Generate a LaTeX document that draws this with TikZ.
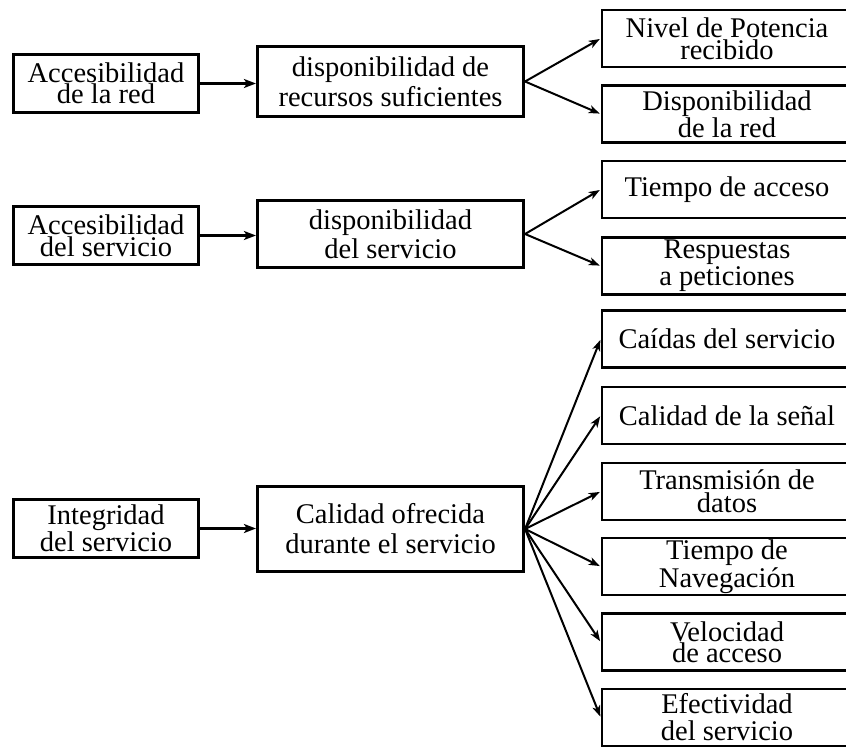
\documentclass[tikz,border=0pt]{standalone}
\usepackage{fontspec}
\setmainfont{Liberation Serif}
\usetikzlibrary{arrows.meta,positioning}

\begin{document}
\begin{tikzpicture}[x=1pt,y=-1pt,
  caja/.style={draw,line width=2.6pt,align=center,inner sep=0pt,font=\fontsize{28.5}{27}\selectfont},
  izq/.style={caja,minimum width=185pt,minimum height=58.5pt},
  med/.style={caja,minimum width=266.5pt},
  der/.style={caja,minimum width=250pt,minimum height=57pt},
  lin/.style={font=\fontsize{28.5}{#1}\selectfont},
  flecha/.style={-{Stealth[length=12pt,width=9pt,inset=3pt]},line width=2.6pt},
  rama/.style={-{Stealth[length=11pt,width=8pt,inset=3pt]},line width=2pt,shorten >=1pt}]
\useasboundingbox (0,0) rectangle (846,747);
\clip (0,0) rectangle (846,747);
% Accesibilidad de la red
\draw (106,83.5) node[izq,lin=21](acc_red){Accesibilidad\\de la red};
\draw (390.5,81.5) node[med,lin=30,minimum height=70.5pt](disp_rec){disponibilidad de\\recursos suficientes};
\draw (727,38.5) node[der,lin=22](nivel){Nivel de Potencia\\recibido};
\draw (727,114) node[der](disp_red){Disponibilidad\\de la red};
\draw[flecha] (acc_red.east) -- (acc_red.east -| disp_rec.west);
\draw[rama] (disp_rec.east) -- (nivel.west);
\draw[rama] (disp_rec.east) -- (disp_red.west);
% Accesibilidad del servicio
\draw (106,235.5) node[izq,lin=22](acc_serv){Accesibilidad\\del servicio};
\draw (390.5,234) node[med,lin=29,minimum height=67.5pt](disp_serv){disponibilidad\\del servicio};
\draw (727,189.5) node[der](t_acceso){Tiempo de acceso};
\draw (727,266) node[der](respuestas){Respuestas\\a peticiones};
\draw[flecha] (acc_serv.east) -- (acc_serv.east -| disp_serv.west);
\draw[rama] (disp_serv.east) -- (t_acceso.west);
\draw[rama] (disp_serv.east) -- (respuestas.west);
% Integridad del servicio
\draw (106,528.5) node[izq,lin=25](integ){Integridad\\del servicio};
\draw (390.5,529) node[med,lin=30,minimum height=85.5pt](cal_ofr){Calidad ofrecida\\durante el servicio};
\draw (727,339) node[der](caidas){Caídas del servicio};
\draw (727,415.5) node[der](cal_senal){Calidad de la señal};
\draw (727,491.5) node[der,lin=23](transm){Transmisión de\\datos};
\draw (727,566.5) node[der,lin=28](t_nav){Tiempo de\\Navegación};
\draw (727,642) node[der,lin=21](veloc){Velocidad\\de acceso};
\draw (727,717.5) node[der](efect){Efectividad\\del servicio};
\draw[flecha] (integ.east) -- (integ.east -| cal_ofr.west);
\draw[rama] (cal_ofr.east) -- (caidas.west);
\draw[rama] (cal_ofr.east) -- (cal_senal.west);
\draw[rama] (cal_ofr.east) -- (transm.west);
\draw[rama] (cal_ofr.east) -- (t_nav.west);
\draw[rama] (cal_ofr.east) -- (veloc.west);
\draw[rama] (cal_ofr.east) -- (efect.west);
\end{tikzpicture}
\end{document}
